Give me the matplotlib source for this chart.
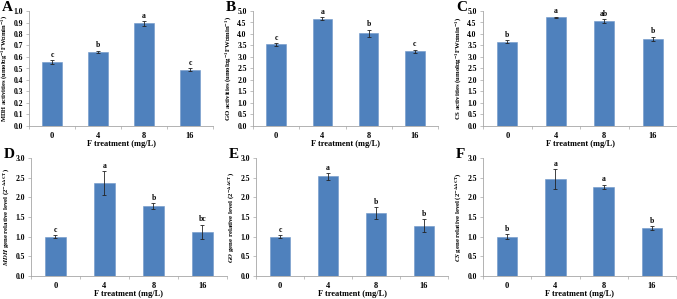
import matplotlib
matplotlib.use("Agg")
import matplotlib.pyplot as plt
import numpy as np

plt.rcParams["font.family"] = ["Liberation Serif", "DejaVu Serif"]
plt.rcParams["font.weight"] = "bold"
plt.rcParams["mathtext.fontset"] = "stix"

treatments = ["0", "4", "8", "16"]

mdh_act = [0.555, 0.645, 0.893, 0.49]
mdh_act_err = [0.015, 0.010, 0.020, 0.012]
mdh_act_sig = ["c", "b", "a", "c"]

go_act = [3.55, 4.67, 4.03, 3.25]
go_act_err = [0.06, 0.05, 0.15, 0.06]
go_act_sig = ["c", "a", "b", "c"]

cs_act = [3.66, 4.73, 4.57, 3.78]
cs_act_err = [0.06, 0.03, 0.08, 0.10]
cs_act_sig = ["b", "a", "ab", "b"]

mdh_gene = [1.0, 2.36, 1.78, 1.12]
mdh_gene_err = [0.04, 0.30, 0.07, 0.18]
mdh_gene_sig = ["c", "a", "b", "bc"]

go_gene = [1.0, 2.53, 1.60, 1.28]
go_gene_err = [0.04, 0.08, 0.15, 0.16]
go_gene_sig = ["c", "a", "b", "b"]

cs_gene = [1.0, 2.47, 2.26, 1.21]
cs_gene_err = [0.06, 0.25, 0.06, 0.05]
cs_gene_sig = ["b", "a", "a", "b"]

W, H = 677, 299
fig = plt.figure(figsize=(W / 100, H / 100), dpi=100)

BAR = "#4f81bd"
GREY = "#a6a6a6"


def panel(rect, vals, errs, sig, ymax, step, ylabel, letter, ylsize):
    l, t, r, b = rect
    ax = fig.add_axes([l / W, 1 - b / H, (r - l) / W, (b - t) / H])
    x = np.arange(len(vals))
    ax.bar(x, vals, width=0.42, color=BAR, edgecolor="#6f97c8", linewidth=0.4)
    ax.errorbar(x, vals, yerr=errs, fmt="none", ecolor="#222222",
                elinewidth=0.6, capsize=1.2, capthick=0.6)
    for xi, v, e, s in zip(x, vals, errs, sig):
        ax.text(xi, v + e + ymax * 0.012, s, ha="center", va="bottom",
                fontsize=5.5, fontweight="bold")
    ax.set_xlim(-0.5, len(vals) - 0.5)
    ax.set_ylim(0, ymax)
    ticks = np.arange(0, ymax + step / 2, step)
    ax.set_yticks(ticks)
    ax.set_yticklabels(["{:.1f}".format(t) for t in ticks], fontsize=5.5)
    ax.set_xticks(x)
    ax.set_xticklabels(treatments, fontsize=6)
    ax.set_xticks(np.arange(-0.5, len(vals), 1.0), minor=True)
    ax.tick_params(axis="x", which="major", length=0, pad=4)
    ax.tick_params(axis="x", which="minor", length=2.5, width=0.5,
                   color=GREY, direction="out")
    ax.tick_params(axis="y", length=2.5, width=0.5, color=GREY, pad=2)
    for s in ("top", "right"):
        ax.spines[s].set_visible(False)
    for s in ("left", "bottom"):
        ax.spines[s].set_color(GREY)
        ax.spines[s].set_linewidth(0.6)
    ax.set_xlabel("F treatment (mg/L)", fontsize=6, fontweight="bold", labelpad=0.5)
    ax.set_ylabel(ylabel, fontsize=ylsize, fontweight="bold", labelpad=2)
    fig.text((l - 27) / W, 1 - (t - 10) / H, letter, fontsize=11,
             fontweight="bold", ha="left", va="top")
    return ax


act_unit = r"(umol$\mathbf{\cdot}$g$^{\mathbf{-1}}$FW$\mathbf{\cdot}$min$^{\mathbf{-1}}$)"
gene_unit = r"(2$^{\mathbf{-\Delta\Delta CT}}$)"

panel((29, 11, 213, 126), mdh_act, mdh_act_err, mdh_act_sig, 1.0, 0.1,
      "MDH activities " + act_unit, "A", 4.7)
panel((253, 11, 438, 126), go_act, go_act_err, go_act_sig, 5.0, 0.5,
      "GO activities " + act_unit, "B", 4.9)
panel((483, 11, 677, 126), cs_act, cs_act_err, cs_act_sig, 5.0, 0.5,
      "CS activities " + act_unit, "C", 4.9)
panel((31, 158, 227, 276), mdh_gene, mdh_gene_err, mdh_gene_sig, 3.0, 0.5,
      r"$\mathbfit{MDH}$ gene relative level " + gene_unit, "D", 4.9)
panel((256, 158, 448, 276), go_gene, go_gene_err, go_gene_sig, 3.0, 0.5,
      r"$\mathbfit{GO}$ gene relative level " + gene_unit, "E", 4.9)
panel((483, 158, 676, 276), cs_gene, cs_gene_err, cs_gene_sig, 3.0, 0.5,
      r"$\mathbfit{CS}$ gene relative level " + gene_unit, "F", 4.9)

fig.savefig("out.png", dpi=100)
